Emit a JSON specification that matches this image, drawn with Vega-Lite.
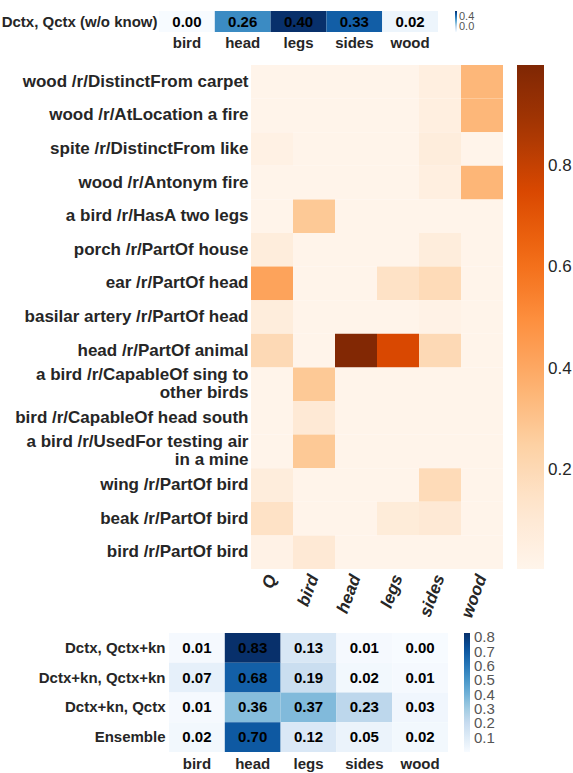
{
  "$schema": "https://vega.github.io/schema/vega-lite/v6.json",
  "padding": {"left": 0, "top": 11, "right": 5, "bottom": 5},
  "config": {"font": "Liberation Sans", "view": {"stroke": null}},
  "spacing": 13,
  "resolve": {"scale": {"color": "independent"}, "legend": {"color": "independent"}},
  "vconcat": [
    {
      "spacing": 15,
      "resolve": {"scale": {"color": "independent"}, "legend": {"color": "independent"}},
      "vconcat": [
        {
          "spacing": 0,
          "hconcat": [
            {"width": 1, "height": 1, "data": {"values": [{"s": 0}]}, "mark": {"type": "point", "opacity": 0, "size": 0, "strokeWidth": 0}, "encoding": {}},
            {
              "width": 279,
              "height": 21,
              "data": {"values": [
                {"row": "Dctx, Qctx (w/o know)", "token": "bird", "p": 0.00},
                {"row": "Dctx, Qctx (w/o know)", "token": "head", "p": 0.26},
                {"row": "Dctx, Qctx (w/o know)", "token": "legs", "p": 0.40},
                {"row": "Dctx, Qctx (w/o know)", "token": "sides", "p": 0.33},
                {"row": "Dctx, Qctx (w/o know)", "token": "wood", "p": 0.02}
              ]},
              "encoding": {
                "x": {"field": "token", "type": "nominal", "sort": null, "axis": {"title": null, "orient": "bottom", "labelAngle": 0, "labelFontSize": 15, "labelFontWeight": "bold", "labelColor": "#262626", "labelPadding": 3, "ticks": false, "tickSize": 0, "domain": false, "labelBaseline": "top"}},
                "y": {"field": "row", "type": "nominal", "sort": null, "axis": {"title": null, "labelFontSize": 15, "labelFontWeight": "bold", "labelColor": "#262626", "labelPadding": 2, "ticks": false, "tickSize": 0, "domain": false, "labelLimit": 400}}
              },
              "layer": [
                {
                  "mark": "rect",
                  "encoding": {
                    "color": {
                      "field": "p", "type": "quantitative",
                      "scale": {"domain": [0, 0.05, 0.1, 0.15, 0.2, 0.25, 0.3, 0.35, 0.4], "range": ["#f7fbff", "#deebf7", "#c6dbef", "#9ecae1", "#6baed6", "#4292c6", "#2171b5", "#08519c", "#08306b"], "interpolate": "rgb"},
                      "legend": {"title": null, "gradientLength": 21, "gradientThickness": 2, "values": [0, 0.4], "format": ".1f", "labelFontSize": 11, "labelColor": "#555555", "labelOverlap": false, "offset": 17, "padding": 0, "gradientStrokeWidth": 0, "labelOffset": 2}
                    }
                  }
                },
                {
                  "mark": {"type": "text", "fontSize": 15, "fontWeight": "bold", "color": "#000000"},
                  "encoding": {"text": {"field": "p", "type": "quantitative", "format": ".2f"}}
                }
              ]
            }
          ]
        },
        {
          "spacing": 0,
          "hconcat": [
            {"width": 14, "height": 1, "data": {"values": [{"s": 0}]}, "mark": {"type": "point", "opacity": 0, "size": 0, "strokeWidth": 0}, "encoding": {}},
            {
              "width": 252,
              "height": 504,
              "data": {"values": [
                {"rel": "wood /r/DistinctFrom carpet", "token": "Q", "p": 0.01},
                {"rel": "wood /r/DistinctFrom carpet", "token": "bird", "p": 0.01},
                {"rel": "wood /r/DistinctFrom carpet", "token": "head", "p": 0.01},
                {"rel": "wood /r/DistinctFrom carpet", "token": "legs", "p": 0.01},
                {"rel": "wood /r/DistinctFrom carpet", "token": "sides", "p": 0.05},
                {"rel": "wood /r/DistinctFrom carpet", "token": "wood", "p": 0.345},
                {"rel": "wood /r/AtLocation a fire", "token": "Q", "p": 0.01},
                {"rel": "wood /r/AtLocation a fire", "token": "bird", "p": 0.01},
                {"rel": "wood /r/AtLocation a fire", "token": "head", "p": 0.01},
                {"rel": "wood /r/AtLocation a fire", "token": "legs", "p": 0.01},
                {"rel": "wood /r/AtLocation a fire", "token": "sides", "p": 0.05},
                {"rel": "wood /r/AtLocation a fire", "token": "wood", "p": 0.345},
                {"rel": "spite /r/DistinctFrom like", "token": "Q", "p": 0.035},
                {"rel": "spite /r/DistinctFrom like", "token": "bird", "p": 0.01},
                {"rel": "spite /r/DistinctFrom like", "token": "head", "p": 0.01},
                {"rel": "spite /r/DistinctFrom like", "token": "legs", "p": 0.01},
                {"rel": "spite /r/DistinctFrom like", "token": "sides", "p": 0.07},
                {"rel": "spite /r/DistinctFrom like", "token": "wood", "p": 0.01},
                {"rel": "wood /r/Antonym fire", "token": "Q", "p": 0.01},
                {"rel": "wood /r/Antonym fire", "token": "bird", "p": 0.01},
                {"rel": "wood /r/Antonym fire", "token": "head", "p": 0.01},
                {"rel": "wood /r/Antonym fire", "token": "legs", "p": 0.01},
                {"rel": "wood /r/Antonym fire", "token": "sides", "p": 0.05},
                {"rel": "wood /r/Antonym fire", "token": "wood", "p": 0.35},
                {"rel": "a bird /r/HasA two legs", "token": "Q", "p": 0.01},
                {"rel": "a bird /r/HasA two legs", "token": "bird", "p": 0.28},
                {"rel": "a bird /r/HasA two legs", "token": "head", "p": 0.01},
                {"rel": "a bird /r/HasA two legs", "token": "legs", "p": 0.01},
                {"rel": "a bird /r/HasA two legs", "token": "sides", "p": 0.01},
                {"rel": "a bird /r/HasA two legs", "token": "wood", "p": 0.01},
                {"rel": "porch /r/PartOf house", "token": "Q", "p": 0.07},
                {"rel": "porch /r/PartOf house", "token": "bird", "p": 0.01},
                {"rel": "porch /r/PartOf house", "token": "head", "p": 0.01},
                {"rel": "porch /r/PartOf house", "token": "legs", "p": 0.01},
                {"rel": "porch /r/PartOf house", "token": "sides", "p": 0.07},
                {"rel": "porch /r/PartOf house", "token": "wood", "p": 0.01},
                {"rel": "ear /r/PartOf head", "token": "Q", "p": 0.42},
                {"rel": "ear /r/PartOf head", "token": "bird", "p": 0.01},
                {"rel": "ear /r/PartOf head", "token": "head", "p": 0.01},
                {"rel": "ear /r/PartOf head", "token": "legs", "p": 0.15},
                {"rel": "ear /r/PartOf head", "token": "sides", "p": 0.19},
                {"rel": "ear /r/PartOf head", "token": "wood", "p": 0.01},
                {"rel": "basilar artery /r/PartOf head", "token": "Q", "p": 0.07},
                {"rel": "basilar artery /r/PartOf head", "token": "bird", "p": 0.01},
                {"rel": "basilar artery /r/PartOf head", "token": "head", "p": 0.01},
                {"rel": "basilar artery /r/PartOf head", "token": "legs", "p": 0.01},
                {"rel": "basilar artery /r/PartOf head", "token": "sides", "p": 0.025},
                {"rel": "basilar artery /r/PartOf head", "token": "wood", "p": 0.01},
                {"rel": "head /r/PartOf animal", "token": "Q", "p": 0.2},
                {"rel": "head /r/PartOf animal", "token": "bird", "p": 0.01},
                {"rel": "head /r/PartOf animal", "token": "head", "p": 0.99},
                {"rel": "head /r/PartOf animal", "token": "legs", "p": 0.75},
                {"rel": "head /r/PartOf animal", "token": "sides", "p": 0.2},
                {"rel": "head /r/PartOf animal", "token": "wood", "p": 0.01},
                {"rel": "a bird /r/CapableOf sing to\nother birds", "token": "Q", "p": 0.01},
                {"rel": "a bird /r/CapableOf sing to\nother birds", "token": "bird", "p": 0.28},
                {"rel": "a bird /r/CapableOf sing to\nother birds", "token": "head", "p": 0.01},
                {"rel": "a bird /r/CapableOf sing to\nother birds", "token": "legs", "p": 0.01},
                {"rel": "a bird /r/CapableOf sing to\nother birds", "token": "sides", "p": 0.01},
                {"rel": "a bird /r/CapableOf sing to\nother birds", "token": "wood", "p": 0.01},
                {"rel": "bird /r/CapableOf head south", "token": "Q", "p": 0.01},
                {"rel": "bird /r/CapableOf head south", "token": "bird", "p": 0.1},
                {"rel": "bird /r/CapableOf head south", "token": "head", "p": 0.01},
                {"rel": "bird /r/CapableOf head south", "token": "legs", "p": 0.01},
                {"rel": "bird /r/CapableOf head south", "token": "sides", "p": 0.01},
                {"rel": "bird /r/CapableOf head south", "token": "wood", "p": 0.01},
                {"rel": "a bird /r/UsedFor testing air\nin a mine", "token": "Q", "p": 0.01},
                {"rel": "a bird /r/UsedFor testing air\nin a mine", "token": "bird", "p": 0.28},
                {"rel": "a bird /r/UsedFor testing air\nin a mine", "token": "head", "p": 0.01},
                {"rel": "a bird /r/UsedFor testing air\nin a mine", "token": "legs", "p": 0.01},
                {"rel": "a bird /r/UsedFor testing air\nin a mine", "token": "sides", "p": 0.01},
                {"rel": "a bird /r/UsedFor testing air\nin a mine", "token": "wood", "p": 0.01},
                {"rel": "wing /r/PartOf bird", "token": "Q", "p": 0.07},
                {"rel": "wing /r/PartOf bird", "token": "bird", "p": 0.01},
                {"rel": "wing /r/PartOf bird", "token": "head", "p": 0.01},
                {"rel": "wing /r/PartOf bird", "token": "legs", "p": 0.01},
                {"rel": "wing /r/PartOf bird", "token": "sides", "p": 0.19},
                {"rel": "wing /r/PartOf bird", "token": "wood", "p": 0.01},
                {"rel": "beak /r/PartOf bird", "token": "Q", "p": 0.15},
                {"rel": "beak /r/PartOf bird", "token": "bird", "p": 0.01},
                {"rel": "beak /r/PartOf bird", "token": "head", "p": 0.01},
                {"rel": "beak /r/PartOf bird", "token": "legs", "p": 0.08},
                {"rel": "beak /r/PartOf bird", "token": "sides", "p": 0.1},
                {"rel": "beak /r/PartOf bird", "token": "wood", "p": 0.01},
                {"rel": "bird /r/PartOf bird", "token": "Q", "p": 0.025},
                {"rel": "bird /r/PartOf bird", "token": "bird", "p": 0.1},
                {"rel": "bird /r/PartOf bird", "token": "head", "p": 0.01},
                {"rel": "bird /r/PartOf bird", "token": "legs", "p": 0.01},
                {"rel": "bird /r/PartOf bird", "token": "sides", "p": 0.01},
                {"rel": "bird /r/PartOf bird", "token": "wood", "p": 0.01}
              ]},
              "mark": "rect",
              "encoding": {
                "x": {"field": "token", "type": "nominal", "sort": null, "axis": {"title": null, "orient": "bottom", "labelAngle": -70, "labelAlign": "right", "labelBaseline": "middle", "labelFontSize": 17, "labelFontWeight": "bold", "labelFontStyle": "italic", "labelColor": "#262626", "labelPadding": 6, "ticks": false, "tickSize": 0, "domain": false}},
                "y": {"field": "rel", "type": "nominal", "sort": null, "axis": {"title": null, "labelFontSize": 17, "labelFontWeight": "bold", "labelColor": "#262626", "labelPadding": 3, "ticks": false, "tickSize": 0, "domain": false, "labelLimit": 400, "labelLineHeight": 18, "labelExpr": "split(datum.label, '\\n')", "labelOffset": {"condition": {"test": "indexof(datum.value, '\\n') >= 0", "value": -9}, "value": 0}}},
                "color": {
                  "field": "p", "type": "quantitative",
                  "scale": {"domain": [0.004, 0.1285, 0.253, 0.3775, 0.502, 0.6265, 0.751, 0.8755, 1.0], "range": ["#fff5eb", "#fee6ce", "#fdd0a2", "#fdae6b", "#fd8d3c", "#f16913", "#d94801", "#a63603", "#7f2704"], "interpolate": "rgb"},
                  "legend": {"title": null, "gradientLength": 504, "gradientThickness": 27, "values": [0.2, 0.4, 0.6, 0.8], "format": ".1f", "labelFontSize": 17, "labelColor": "#262626", "labelOverlap": false, "offset": 14, "padding": 0, "gradientStrokeWidth": 0, "labelOffset": 4}
                }
              }
            }
          ]
        }
      ]
    },
    {
      "spacing": 0,
      "hconcat": [
        {"width": 38, "height": 1, "data": {"values": [{"s": 0}]}, "mark": {"type": "point", "opacity": 0, "size": 0, "strokeWidth": 0}, "encoding": {}},
        {
          "width": 279,
          "height": 119,
          "data": {"values": [
            {"row": "Dctx, Qctx+kn", "token": "bird", "p": 0.01},
            {"row": "Dctx, Qctx+kn", "token": "head", "p": 0.83},
            {"row": "Dctx, Qctx+kn", "token": "legs", "p": 0.13},
            {"row": "Dctx, Qctx+kn", "token": "sides", "p": 0.01},
            {"row": "Dctx, Qctx+kn", "token": "wood", "p": 0.00},
            {"row": "Dctx+kn, Qctx+kn", "token": "bird", "p": 0.07},
            {"row": "Dctx+kn, Qctx+kn", "token": "head", "p": 0.68},
            {"row": "Dctx+kn, Qctx+kn", "token": "legs", "p": 0.19},
            {"row": "Dctx+kn, Qctx+kn", "token": "sides", "p": 0.02},
            {"row": "Dctx+kn, Qctx+kn", "token": "wood", "p": 0.01},
            {"row": "Dctx+kn, Qctx", "token": "bird", "p": 0.01},
            {"row": "Dctx+kn, Qctx", "token": "head", "p": 0.36},
            {"row": "Dctx+kn, Qctx", "token": "legs", "p": 0.37},
            {"row": "Dctx+kn, Qctx", "token": "sides", "p": 0.23},
            {"row": "Dctx+kn, Qctx", "token": "wood", "p": 0.03},
            {"row": "Ensemble", "token": "bird", "p": 0.02},
            {"row": "Ensemble", "token": "head", "p": 0.70},
            {"row": "Ensemble", "token": "legs", "p": 0.12},
            {"row": "Ensemble", "token": "sides", "p": 0.05},
            {"row": "Ensemble", "token": "wood", "p": 0.02}
          ]},
          "encoding": {
            "x": {"field": "token", "type": "nominal", "sort": null, "axis": {"title": null, "orient": "bottom", "labelAngle": 0, "labelFontSize": 15, "labelFontWeight": "bold", "labelColor": "#262626", "labelPadding": 4, "ticks": false, "tickSize": 0, "domain": false, "labelBaseline": "top"}},
            "y": {"field": "row", "type": "nominal", "sort": null, "axis": {"title": null, "labelFontSize": 15, "labelFontWeight": "bold", "labelColor": "#262626", "labelPadding": 4, "ticks": false, "tickSize": 0, "domain": false, "labelLimit": 400}}
          },
          "layer": [
            {
              "mark": "rect",
              "encoding": {
                "color": {
                  "field": "p", "type": "quantitative",
                  "scale": {"domain": [0, 0.10375, 0.2075, 0.31125, 0.415, 0.51875, 0.6225, 0.72625, 0.83], "range": ["#f7fbff", "#deebf7", "#c6dbef", "#9ecae1", "#6baed6", "#4292c6", "#2171b5", "#08519c", "#08306b"], "interpolate": "rgb"},
                  "legend": {"title": null, "gradientLength": 119, "gradientThickness": 6, "values": [0.1, 0.2, 0.3, 0.4, 0.5, 0.6, 0.7, 0.8], "format": ".1f", "labelFontSize": 15, "labelColor": "#555555", "labelOverlap": false, "offset": 16, "padding": 0, "gradientStrokeWidth": 0, "labelOffset": 4}
                }
              }
            },
            {
              "mark": {"type": "text", "fontSize": 15, "fontWeight": "bold", "color": "#000000"},
              "encoding": {"text": {"field": "p", "type": "quantitative", "format": ".2f"}}
            }
          ]
        }
      ]
    }
  ]
}
